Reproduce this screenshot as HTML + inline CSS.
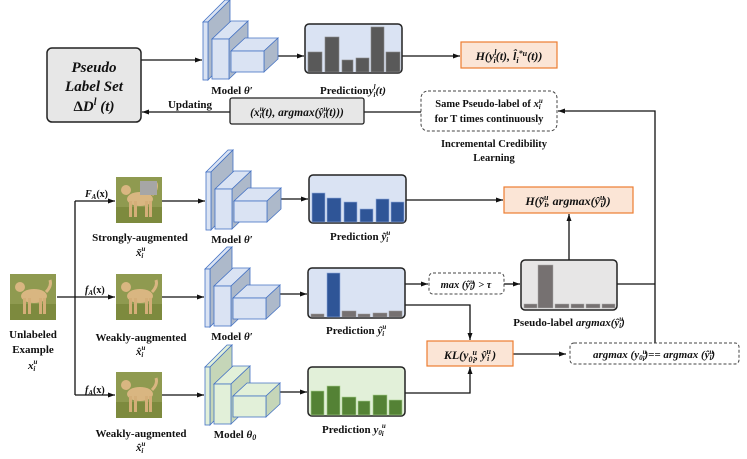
<!DOCTYPE html>
<html><head><meta charset="utf-8"><style>
html,body{margin:0;padding:0;background:#fff}
svg{display:block}
text{font-family:"Liberation Serif",serif;font-weight:bold;fill:#111}
.m{font-style:italic}
</style></head><body>
<svg width="747" height="459" viewBox="0 0 747 459" xmlns="http://www.w3.org/2000/svg">
<defs>
<marker id="a" markerWidth="8" markerHeight="8" refX="7" refY="4" orient="auto" markerUnits="userSpaceOnUse"><path d="M0,1.5 L7,4 L0,6.5 z" fill="#111"/></marker>
<g id="mb">
<polygon points="0,22 22,0 27,0 5,22" fill="#dae3f3" stroke="#4472c4" stroke-width="0.8"/>
<polygon points="5,22 27,0 27,57 5,80" fill="#adb9ca" stroke="#4472c4" stroke-width="0.8"/>
<rect x="0" y="22" width="5" height="58" fill="#dae3f3" stroke="#4472c4" stroke-width="0.8"/>
<polygon points="9,39 26,39 45,21 28,21" fill="#dae3f3" stroke="#4472c4" stroke-width="0.8"/>
<polygon points="26,39 45,21 45,61 26,79" fill="#adb9ca" stroke="#4472c4" stroke-width="0.8"/>
<rect x="9" y="39" width="17" height="40" fill="#dae3f3" stroke="#4472c4" stroke-width="0.8"/>
<polygon points="28,51 61,51 75,38 42,38" fill="#dae3f3" stroke="#4472c4" stroke-width="0.8"/>
<polygon points="61,51 75,38 75,59 61,72" fill="#adb9ca" stroke="#4472c4" stroke-width="0.8"/>
<rect x="28" y="51" width="33" height="21" fill="#dae3f3" stroke="#4472c4" stroke-width="0.8"/>
</g>
<g id="mg">
<polygon points="0,22 22,0 27,0 5,22" fill="#e2f0d9" stroke="#4472c4" stroke-width="0.8"/>
<polygon points="5,22 27,0 27,57 5,80" fill="#c5d6b8" stroke="#4472c4" stroke-width="0.8"/>
<rect x="0" y="22" width="5" height="58" fill="#e2f0d9" stroke="#4472c4" stroke-width="0.8"/>
<polygon points="9,39 26,39 45,21 28,21" fill="#e2f0d9" stroke="#4472c4" stroke-width="0.8"/>
<polygon points="26,39 45,21 45,61 26,79" fill="#c5d6b8" stroke="#4472c4" stroke-width="0.8"/>
<rect x="9" y="39" width="17" height="40" fill="#e2f0d9" stroke="#4472c4" stroke-width="0.8"/>
<polygon points="28,51 61,51 75,38 42,38" fill="#e2f0d9" stroke="#4472c4" stroke-width="0.8"/>
<polygon points="61,51 75,38 75,59 61,72" fill="#c5d6b8" stroke="#4472c4" stroke-width="0.8"/>
<rect x="28" y="51" width="33" height="21" fill="#e2f0d9" stroke="#4472c4" stroke-width="0.8"/>
</g>
<g id="dog">
<rect x="0" y="0" width="46" height="46" fill="#8f9a50"/>
<rect x="0" y="30" width="46" height="16" fill="#7d8a3e"/>
<ellipse cx="24" cy="22" rx="13" ry="7" fill="#d9b681"/>
<ellipse cx="10" cy="13" rx="5" ry="5" fill="#d9b681"/>
<rect x="13" y="24" width="3" height="16" fill="#d4ae78"/>
<rect x="18" y="24" width="3" height="16" fill="#d4ae78"/>
<rect x="29" y="24" width="3" height="16" fill="#d4ae78"/>
<rect x="33" y="24" width="3" height="16" fill="#d4ae78"/>
<path d="M36,18 Q42,12 40,6" stroke="#d9b681" stroke-width="3" fill="none"/>
</g>
</defs>

<g stroke="#111" stroke-width="1.3" fill="none">
<line x1="141" y1="60" x2="202" y2="60" marker-end="url(#a)"/>
<line x1="402" y1="56" x2="460" y2="56" marker-end="url(#a)"/>
<line x1="230" y1="112" x2="142" y2="112" marker-end="url(#a)"/>
<line x1="421" y1="112" x2="364" y2="112"/>
<polyline points="655,343 655,111 558,111" marker-end="url(#a)"/>
<line x1="75" y1="201" x2="75" y2="395"/>
<line x1="75" y1="201" x2="115" y2="201" marker-end="url(#a)"/>
<line x1="57" y1="297" x2="115" y2="297" marker-end="url(#a)"/>
<line x1="75" y1="395" x2="115" y2="395" marker-end="url(#a)"/>
<line x1="162" y1="201" x2="205" y2="201" marker-end="url(#a)"/>
<line x1="162" y1="297" x2="204" y2="297" marker-end="url(#a)"/>
<line x1="162" y1="395" x2="204" y2="395" marker-end="url(#a)"/>
<line x1="281" y1="199" x2="308" y2="199" marker-end="url(#a)"/>
<line x1="280" y1="294" x2="307" y2="294" marker-end="url(#a)"/>
<line x1="280" y1="392" x2="307" y2="392" marker-end="url(#a)"/>
<line x1="277" y1="56" x2="304" y2="56" marker-end="url(#a)"/>
<line x1="406" y1="200" x2="503" y2="200" marker-end="url(#a)"/>
<line x1="569" y1="260" x2="569" y2="214" marker-end="url(#a)"/>
<line x1="405" y1="284" x2="428" y2="284" marker-end="url(#a)"/>
<line x1="504" y1="284" x2="520" y2="284" marker-end="url(#a)"/>
<line x1="617" y1="284" x2="655" y2="284"/>
<polyline points="405,305 470,305 470,340" marker-end="url(#a)"/>
<polyline points="405,393 470,393 470,367" marker-end="url(#a)"/>
<line x1="513" y1="354" x2="566" y2="354" marker-end="url(#a)"/>
</g>

<!-- pseudo label set -->
<rect x="47" y="48" width="94" height="74" rx="5" fill="#e7e7e7" stroke="#222" stroke-width="1.5"/>
<text x="94" y="72" text-anchor="middle" class="m" font-size="15">Pseudo</text>
<text x="94" y="91" text-anchor="middle" class="m" font-size="15">Label Set</text>
<text x="94" y="111" text-anchor="middle" font-size="15">Δ<tspan class="m">D<tspan font-size="10" dy="-6">l</tspan><tspan dy="6"> (t)</tspan></tspan></text>

<use href="#mb" x="203" y="0"/>
<use href="#mb" x="206" y="150"/>
<use href="#mb" x="205" y="247"/>
<use href="#mg" x="205" y="345"/>

<!-- top prediction -->
<rect x="305" y="24" width="97" height="49" rx="4" fill="#dae3f3" stroke="#222" stroke-width="1.5"/>
<g fill="#595959" stroke="#8a8a8a" stroke-width="0.6">
<rect x="308" y="52" width="14" height="20"/><rect x="325" y="37" width="14" height="35"/><rect x="342" y="60" width="11" height="12"/><rect x="356" y="58" width="13" height="14"/><rect x="371" y="27" width="13" height="45"/><rect x="386" y="52" width="14" height="20"/>
</g>
<text x="232" y="94" text-anchor="middle" font-size="11">Model <tspan class="m">θ′</tspan></text>
<text x="320" y="94" font-size="11">Prediction<tspan class="m">y<tspan font-size="7" dy="-5">l</tspan><tspan font-size="7" dx="-2" dy="8">i</tspan><tspan dy="-3">(t)</tspan></tspan></text>

<rect x="461" y="42" width="96" height="26" fill="#fbe5d6" stroke="#ed7d31" stroke-width="1.2"/>
<text x="509" y="60" text-anchor="middle" class="m" font-size="12">H(y<tspan font-size="8" dy="-5">l</tspan><tspan font-size="8" dx="-3" dy="8">i</tspan><tspan dy="-3">(t), l̂</tspan><tspan font-size="8" dy="3">i</tspan><tspan font-size="8" dy="-7">*u</tspan><tspan dy="4">(t))</tspan></text>

<rect x="230" y="98" width="134" height="26" rx="2" fill="#e7e7e7" stroke="#222" stroke-width="1.3"/>
<text x="297" y="116" text-anchor="middle" font-size="11.5" class="m">(x<tspan font-size="7" dy="-5">u</tspan><tspan font-size="7" dx="-4" dy="7">i</tspan><tspan dy="-2">(t), argmax(ŷ</tspan><tspan font-size="7" dy="-5">u</tspan><tspan font-size="7" dx="-4" dy="7">i</tspan><tspan dy="-2">(t)))</tspan></text>
<text x="190" y="108" text-anchor="middle" font-size="11">Updating</text>

<rect x="421" y="91" width="136" height="40" rx="7" fill="#fff" stroke="#444" stroke-width="1" stroke-dasharray="3,2"/>
<text x="489" y="107" text-anchor="middle" font-size="10.5">Same Pseudo-label of <tspan class="m">x<tspan font-size="7" dy="-4">u</tspan><tspan font-size="7" dx="-4" dy="6">i</tspan></tspan></text>
<text x="489" y="122" text-anchor="middle" font-size="10.5">for T times continuously</text>
<text x="494" y="147" text-anchor="middle" font-size="10.5">Incremental Credibility</text>
<text x="494" y="161" text-anchor="middle" font-size="10.5">Learning</text>

<!-- strong row -->
<use href="#dog" x="116" y="177"/>
<rect x="140" y="181" width="17" height="14" fill="#a6a6a6"/>
<text x="85" y="197" class="m" font-size="10">F<tspan font-size="7" dy="2">A</tspan><tspan dy="-2" font-style="normal">(x)</tspan></text>
<text x="140" y="241" text-anchor="middle" font-size="11">Strongly-augmented</text>
<text x="136" y="256" class="m" font-size="11">x̃<tspan font-size="7" dy="-5">u</tspan><tspan font-size="7" dx="-4" dy="7">i</tspan></text>
<text x="232" y="243" text-anchor="middle" font-size="11">Model <tspan class="m">θ′</tspan></text>
<rect x="309" y="175" width="97" height="48" rx="4" fill="#dae3f3" stroke="#222" stroke-width="1.5"/>
<g fill="#2f5597" stroke="#8faadc" stroke-width="0.6">
<rect x="312" y="193" width="13" height="29"/><rect x="327" y="198" width="14" height="24"/><rect x="344" y="202" width="13" height="20"/><rect x="360" y="209" width="13" height="13"/><rect x="376" y="199" width="13" height="23"/><rect x="391" y="202" width="13" height="20"/>
</g>
<text x="330" y="240" font-size="11">Prediction <tspan class="m">ỹ<tspan font-size="7" dy="-5">u</tspan><tspan font-size="7" dx="-4" dy="7">i</tspan></tspan></text>

<rect x="504" y="187" width="129" height="26" fill="#fbe5d6" stroke="#ed7d31" stroke-width="1.2"/>
<text x="568" y="205" text-anchor="middle" class="m" font-size="12">H(ỹ<tspan font-size="8" dy="-5">u</tspan><tspan font-size="8" dx="-4" dy="7">i</tspan><tspan dy="-2">, argmax(ŷ</tspan><tspan font-size="8" dy="-5">u</tspan><tspan font-size="8" dx="-4" dy="7">i</tspan><tspan dy="-2">))</tspan></text>

<!-- weak row -->
<use href="#dog" x="10" y="274"/>
<use href="#dog" x="116" y="274"/>
<text x="85" y="293" class="m" font-size="10">f<tspan font-size="7" dy="2">A</tspan><tspan dy="-2" font-style="normal">(x)</tspan></text>
<text x="33" y="338" text-anchor="middle" font-size="11">Unlabeled</text>
<text x="33" y="353" text-anchor="middle" font-size="11">Example</text>
<text x="28" y="369" class="m" font-size="11">x<tspan font-size="7" dy="-5">u</tspan><tspan font-size="7" dx="-4" dy="7">i</tspan></text>
<text x="141" y="341" text-anchor="middle" font-size="11">Weakly-augmented</text>
<text x="136" y="355" class="m" font-size="11">x̂<tspan font-size="7" dy="-5">u</tspan><tspan font-size="7" dx="-4" dy="7">i</tspan></text>
<text x="232" y="340" text-anchor="middle" font-size="11">Model <tspan class="m">θ′</tspan></text>
<rect x="308" y="268" width="97" height="50" rx="4" fill="#dae3f3" stroke="#222" stroke-width="1.5"/>
<g fill="#767171" stroke="#999" stroke-width="0.5">
<rect x="311" y="314" width="13" height="3"/><rect x="342" y="311" width="14" height="6"/><rect x="358" y="314" width="12" height="3"/><rect x="373" y="313" width="14" height="4"/><rect x="389" y="311" width="13" height="6"/>
</g>
<rect x="327" y="273" width="13" height="44" fill="#2f5597" stroke="#8faadc" stroke-width="0.6"/>
<text x="326" y="334" font-size="11">Prediction <tspan class="m">ŷ<tspan font-size="7" dy="-5">u</tspan><tspan font-size="7" dx="-4" dy="7">i</tspan></tspan></text>

<rect x="429" y="273" width="75" height="21" rx="4" fill="#fff" stroke="#444" stroke-width="1" stroke-dasharray="3,2"/>
<text x="466" y="288" text-anchor="middle" class="m" font-size="10.5">max (ŷ<tspan font-size="7" dy="-4">u</tspan><tspan font-size="7" dx="-4" dy="6">i</tspan><tspan dy="-2">) &gt; τ</tspan></text>

<rect x="521" y="260" width="96" height="50" rx="4" fill="#e7e6e6" stroke="#222" stroke-width="1.5"/>
<g fill="#767171" stroke="#aaa" stroke-width="0.5">
<rect x="524" y="304" width="13" height="4"/><rect x="538" y="265" width="15" height="43"/><rect x="555" y="304" width="14" height="4"/><rect x="571" y="304" width="13" height="4"/><rect x="586" y="304" width="14" height="4"/><rect x="602" y="304" width="13" height="4"/>
</g>
<text x="569" y="326" text-anchor="middle" font-size="11">Pseudo-label <tspan class="m">argmax(ŷ<tspan font-size="7" dy="-5">u</tspan><tspan font-size="7" dx="-4" dy="7">i</tspan><tspan dy="-2">)</tspan></tspan></text>

<rect x="427" y="341" width="86" height="25" fill="#fbe5d6" stroke="#ed7d31" stroke-width="1.2"/>
<text x="470" y="359" text-anchor="middle" class="m" font-size="12">KL(y<tspan font-size="8" dy="3">0</tspan><tspan font-size="8" dy="-7">u</tspan><tspan font-size="8" dx="-4" dy="8">i</tspan><tspan dy="-4">, ŷ</tspan><tspan font-size="8" dy="-5">u</tspan><tspan font-size="8" dx="-4" dy="7">i</tspan><tspan dy="-2"> )</tspan></text>

<rect x="570" y="343" width="169" height="21" rx="4" fill="#fff" stroke="#444" stroke-width="1" stroke-dasharray="3,2"/>
<text x="654" y="358" text-anchor="middle" class="m" font-size="11">argmax (y<tspan font-size="7" dy="2">0</tspan><tspan font-size="7" dy="-6">u</tspan><tspan font-size="7" dx="-4" dy="7">i</tspan><tspan dy="-3">)== argmax (ŷ</tspan><tspan font-size="7" dy="-4">u</tspan><tspan font-size="7" dx="-4" dy="6">i</tspan><tspan dy="-2">)</tspan></text>

<!-- bottom row -->
<use href="#dog" x="116" y="372"/>
<text x="85" y="393" class="m" font-size="10">f<tspan font-size="7" dy="2">A</tspan><tspan dy="-2" font-style="normal">(x)</tspan></text>
<text x="141" y="437" text-anchor="middle" font-size="11">Weakly-augmented</text>
<text x="136" y="451" class="m" font-size="11">x̂<tspan font-size="7" dy="-5">u</tspan><tspan font-size="7" dx="-4" dy="7">i</tspan></text>
<text x="235" y="438" text-anchor="middle" font-size="11">Model <tspan class="m">θ<tspan font-size="8" dy="2">0</tspan></tspan></text>
<rect x="308" y="367" width="97" height="49" rx="4" fill="#e2f0d9" stroke="#222" stroke-width="1.5"/>
<g fill="#548235" stroke="#a9d18e" stroke-width="0.6">
<rect x="311" y="391" width="13" height="24"/><rect x="327" y="386" width="13" height="29"/><rect x="342" y="397" width="14" height="18"/><rect x="358" y="401" width="12" height="14"/><rect x="373" y="395" width="14" height="20"/><rect x="389" y="400" width="13" height="15"/>
</g>
<text x="322" y="433" font-size="11">Prediction <tspan class="m">y<tspan font-size="7" dy="2">0</tspan><tspan font-size="7" dy="-7">u</tspan><tspan font-size="7" dx="-4" dy="8">i</tspan></tspan></text>
</svg>
</body></html>
